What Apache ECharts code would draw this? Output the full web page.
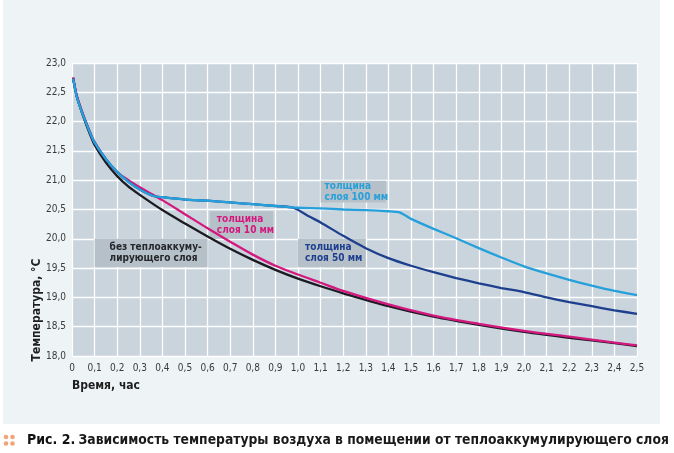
<!DOCTYPE html>
<html>
<head>
<meta charset="utf-8">
<script src="https://cdn.jsdelivr.net/npm/echarts@6/dist/echarts.min.js"></script>
<style>
  html, body { margin: 0; padding: 0; background: #ffffff; }
  #panel { position: absolute; left: 3px; top: 0; width: 657px; height: 424px; background: #eef3f6; }
  #chart { position: absolute; left: 0; top: 0; width: 674px; height: 453px; }
</style>
</head>
<body>
<div id="panel"></div>
<div id="chart"></div>
<script>
// время, час и температура, °C для каждой кривой
var timeBase = [0.005, 0.02, 0.04, 0.06, 0.08, 0.1, 0.15, 0.2, 0.25, 0.3, 0.4, 0.5, 0.6, 0.7, 0.8, 0.9, 1.0, 1.1, 1.2, 1.4, 1.6, 1.8, 2.0, 2.2, 2.4, 2.5];
var tempBase = [22.75, 22.45, 22.2, 21.98, 21.78, 21.6, 21.3, 21.07, 20.89, 20.75, 20.49, 20.26, 20.04, 19.83, 19.64, 19.47, 19.32, 19.19, 19.07, 18.85, 18.67, 18.53, 18.41, 18.31, 18.22, 18.17];

var time10 = [0.005, 0.02, 0.04, 0.06, 0.08, 0.1, 0.15, 0.2, 0.25, 0.3, 0.35, 0.4, 0.5, 0.6, 0.7, 0.8, 0.9, 1.0, 1.1, 1.2, 1.4, 1.6, 1.8, 2.0, 2.2, 2.4, 2.5];
var temp10 = [22.75, 22.46, 22.22, 22.01, 21.82, 21.65, 21.36, 21.14, 21.0, 20.88, 20.77, 20.66, 20.42, 20.18, 19.95, 19.73, 19.54, 19.39, 19.25, 19.11, 18.88, 18.69, 18.55, 18.43, 18.33, 18.23, 18.18];

var time50 = [0.005, 0.02, 0.04, 0.06, 0.08, 0.1, 0.15, 0.2, 0.25, 0.3, 0.36, 0.4, 0.5, 0.6, 0.7, 0.8, 0.9, 0.98, 1.05, 1.1, 1.2, 1.3, 1.4, 1.5, 1.6, 1.7, 1.8, 1.9, 2.0, 2.1, 2.2, 2.3, 2.4, 2.5];
var temp50 = [22.73, 22.44, 22.2, 22.0, 21.81, 21.64, 21.36, 21.14, 20.97, 20.84, 20.73, 20.71, 20.67, 20.65, 20.62, 20.59, 20.56, 20.53, 20.38, 20.28, 20.05, 19.84, 19.67, 19.54, 19.43, 19.33, 19.24, 19.16, 19.09, 19.0, 18.92, 18.85, 18.78, 18.72];

var time100 = [0.005, 0.02, 0.04, 0.06, 0.08, 0.1, 0.15, 0.2, 0.25, 0.3, 0.36, 0.4, 0.5, 0.6, 0.7, 0.8, 0.9, 1.0, 1.1, 1.2, 1.3, 1.4, 1.45, 1.5, 1.6, 1.7, 1.8, 1.9, 2.0, 2.1, 2.2, 2.3, 2.4, 2.5];
var temp100 = [22.73, 22.44, 22.2, 22.0, 21.81, 21.64, 21.36, 21.14, 20.97, 20.84, 20.73, 20.71, 20.67, 20.65, 20.62, 20.59, 20.56, 20.53, 20.52, 20.5, 20.49, 20.47, 20.45, 20.34, 20.17, 20.01, 19.84, 19.68, 19.53, 19.41, 19.3, 19.2, 19.11, 19.04];

// подписи кривых: текст и ячейка сетки [t1, T1, t2, T2]
var labelBase = 'без теплоаккуму-\nлирующего слоя';
var boxBase = [0.1, 20.0, 0.6, 19.52];
var label10 = 'толщина\nслоя 10 мм';
var box10 = [0.61, 20.47, 0.89, 20.0];
var label50 = 'толщина\nслоя 50 мм';
var box50 = [1.0, 20.0, 1.3, 19.52];
var label100 = 'толщина\nслоя 100 мм';
var box100 = [1.1, 20.99, 1.39, 20.62];

var axisTitleY = 'Температура, °C';
var axisTitleX = 'Время, час';
var captionHead = 'Рис. 2.';
var captionText = 'Зависимость температуры воздуха в помещении от теплоаккумулирующего слоя';

var narrow = "'Liberation Sans Narrow', 'DejaVu Sans Condensed', sans-serif";

function pairs(xs, ys) {
    return xs.map(function (x, i) { return [x, ys[i]]; });
}

function box(b, text, color, pad) {
    return {
        silent: true,
        itemStyle: { color: '#b6c0c8' },
        label: {
            show: true,
            position: 'insideLeft',
            distance: pad,
            formatter: text,
            color: color,
            fontFamily: narrow,
            fontWeight: 'bold',
            fontSize: 10,
            lineHeight: 11
        },
        data: [[{ coord: [b[0], b[1]] }, { coord: [b[2], b[3]] }]]
    };
}

function comma(v, keepZero) {
    if (!keepZero && Math.abs(v) < 1e-9) return '0';
    return v.toFixed(1).replace('.', ',');
}

var myChart = echarts.init(document.getElementById('chart'), null, { renderer: 'canvas' });

var option = {
    animation: false,
    backgroundColor: 'transparent',
    grid: {
        left: 72, right: 37, top: 63, bottom: 97,
        show: true, backgroundColor: '#c9d4dc', borderWidth: 0
    },
    xAxis: {
        type: 'value', min: 0, max: 2.5, interval: 0.1,
        axisLine: { show: false }, axisTick: { show: false },
        axisLabel: {
            margin: 7, fontSize: 10, color: '#3a3a3a', fontFamily: narrow,
            formatter: function (v) { return comma(v, false); }
        },
        splitLine: { show: true, lineStyle: { color: '#ffffff', width: 1.3 } }
    },
    yAxis: {
        type: 'value', min: 18, max: 23, interval: 0.5,
        axisLine: { show: false }, axisTick: { show: false },
        axisLabel: {
            margin: 6, fontSize: 10, color: '#3a3a3a', fontFamily: narrow,
            formatter: function (v) { return comma(v, true); }
        },
        splitLine: { show: true, lineStyle: { color: '#ffffff', width: 1.3 } }
    },
    series: [
        {
            type: 'line', name: 'base', data: pairs(timeBase, tempBase),
            symbol: 'none', smooth: 0.3,
            lineStyle: { color: '#1c1b22', width: 2.3 },
            markArea: box(boxBase, labelBase, '#25272b', 15)
        },
        {
            type: 'line', name: '10', data: pairs(time10, temp10),
            symbol: 'none', smooth: 0.3,
            lineStyle: { color: '#d3187e', width: 2.3 },
            markArea: box(box10, label10, '#d3187e', 7)
        },
        {
            type: 'line', name: '50', data: pairs(time50, temp50),
            symbol: 'none', smooth: 0.2,
            lineStyle: { color: '#1d3f8e', width: 2.3 },
            markArea: box(box50, label50, '#1d3f8e', 7)
        },
        {
            type: 'line', name: '100', data: pairs(time100, temp100),
            symbol: 'none', smooth: 0.2,
            lineStyle: { color: '#25a0da', width: 2.3 },
            markArea: box(box100, label100, '#25a0da', 4)
        }
    ],
    graphic: [
        {
            type: 'text', x: 37, y: 310, rotation: Math.PI / 2,
            style: {
                text: axisTitleY, fill: '#1e1e1e', font: "bold 12px " + narrow,
                align: 'center', verticalAlign: 'middle'
            }
        },
        {
            type: 'text', x: 72, y: 386,
            style: {
                text: axisTitleX, fill: '#1e1e1e', font: "bold 12px " + narrow,
                align: 'left', verticalAlign: 'middle'
            }
        },
        { type: 'circle', shape: { cx: 6, cy: 437, r: 2.3 }, style: { fill: '#f3a37a' } },
        { type: 'circle', shape: { cx: 12.5, cy: 437, r: 2.3 }, style: { fill: '#f3a37a' } },
        { type: 'circle', shape: { cx: 6, cy: 443.5, r: 2.3 }, style: { fill: '#f3a37a' } },
        { type: 'circle', shape: { cx: 12.5, cy: 443.5, r: 2.3 }, style: { fill: '#f3a37a' } },
        {
            type: 'text', x: 27, y: 440,
            style: {
                text: '{h|' + captionHead + '} {t|' + captionText + '}',
                align: 'left', verticalAlign: 'middle',
                rich: {
                    h: { fill: '#111111', font: "bold 14px " + narrow },
                    t: { fill: '#1a1a1a', font: "bold 13.75px " + narrow }
                }
            }
        }
    ]
};

myChart.setOption(option);
window.addEventListener('resize', function () {
    myChart.resize();
});
</script>
</body>
</html>
